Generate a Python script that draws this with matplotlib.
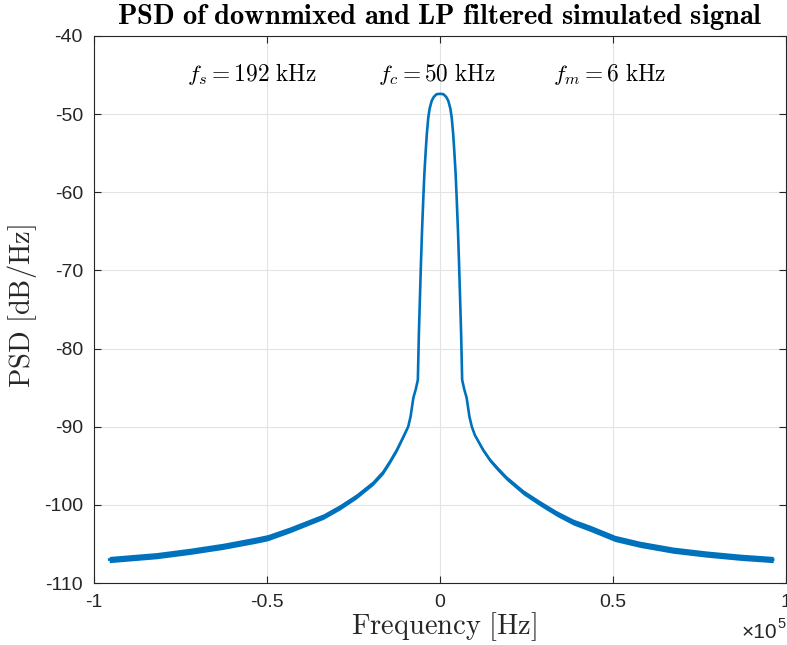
import matplotlib
matplotlib.use("Agg")
import matplotlib.pyplot as plt
import numpy as np

# values (frequency in kHz, PSD in dB/Hz)
freq_khz = [-95.6, -91.5, -81.9, -72.3, -62.6, -53.0, -49.8, -43.4, -33.7,
            -28.9, -24.1, -19.3, -16.4, -14.5, -12.5, -10.6, -9.2, -8.5,
            -7.7, -7.0, -6.4, -6.1, -5.8, -5.5, -5.2, -4.8, -4.5, -4.1, -3.8,
            -3.4, -3.0, -2.4, -1.8, -1.0, 0.0, 1.0, 1.8, 2.4, 3.0, 3.4, 3.8,
            4.1, 4.5, 4.8, 5.2, 5.5, 5.8, 6.1, 6.4, 7.0, 7.7, 8.5, 9.2, 10.1,
            12.5, 14.5, 16.9, 19.3, 24.1, 28.9, 33.7, 38.5, 43.4, 50.6, 57.8,
            67.4, 77.1, 86.7, 96.3]
psd_db = [-107.0, -106.85, -106.5, -105.95, -105.3, -104.5, -104.2, -103.2,
          -101.5, -100.3, -98.9, -97.2, -95.8, -94.5, -93.0, -91.3, -90.0,
          -88.7, -86.3, -85.2, -84.0, -78.0, -73.5, -69.0, -65.0, -60.5,
          -57.5, -54.5, -52.5, -50.5, -49.3, -48.3, -47.8, -47.45, -47.4,
          -47.45, -47.8, -48.3, -49.3, -50.5, -52.5, -54.5, -57.5, -60.5,
          -65.0, -69.0, -73.5, -78.0, -84.0, -85.2, -86.3, -88.7, -90.0,
          -91.1, -93.0, -94.3, -95.5, -96.6, -98.4, -99.8, -101.1, -102.2,
          -103.0, -104.3, -105.05, -105.8, -106.3, -106.7, -107.0]
# half height of the fine bin-to-bin ripple seen in the tails
ripple_db = [0.4, 0.4, 0.4, 0.4, 0.4, 0.4, 0.4, 0.38, 0.36, 0.35, 0.33,
             0.3, 0.3, 0.28, 0.25, 0.2, 0.1, 0.0, 0.0, 0.0, 0.0, 0.0, 0.0,
             0.0, 0.0, 0.0, 0.0, 0.0, 0.0, 0.0, 0.0, 0.0, 0.0, 0.0, 0.0, 0.0,
             0.0, 0.0, 0.0, 0.0, 0.0, 0.0, 0.0, 0.0, 0.0, 0.0, 0.0, 0.0, 0.0,
             0.0, 0.0, 0.0, 0.1, 0.2, 0.25, 0.28, 0.3, 0.3, 0.33, 0.35, 0.36,
             0.38, 0.4, 0.4, 0.4, 0.4, 0.4, 0.4, 0.4]

x_ticks = [-1e5, -0.5e5, 0, 0.5e5, 1e5]
x_tick_labels = ["-1", "-0.5", "0", "0.5", "1"]
y_ticks = [-110, -100, -90, -80, -70, -60, -50, -40]

blue = "#0072BD"
dark = "#262626"


def main():
    plt.rcParams["mathtext.fontset"] = "cm"
    plt.rcParams["font.family"] = ["Liberation Sans", "DejaVu Sans"]

    fig = plt.figure(figsize=(7.87, 6.45), dpi=100)
    ax = fig.add_axes([94 / 787, 62 / 645, 692 / 787, 547 / 645])

    f = np.array(freq_khz) * 1e3
    p = np.array(psd_db)
    r = np.array(ripple_db)

    ax.fill_between(f, p - r, p + r, color=blue, lw=0, zorder=3)
    ax.plot(f, p, color=blue, lw=1.9, zorder=4, solid_joinstyle="round")

    ax.set_xlim(-1e5, 1e5)
    ax.set_ylim(-110, -40)
    ax.set_xticks(x_ticks)
    ax.set_xticklabels(x_tick_labels)
    ax.set_yticks(y_ticks)
    ax.set_yticklabels([str(v) for v in y_ticks])

    ax.grid(True, color="#e3e3e3", lw=0.8)
    ax.set_axisbelow(True)
    ax.tick_params(direction="in", length=5, width=0.8, colors=dark,
                   labelsize=14, top=True, right=True, pad=8)
    for s in ax.spines.values():
        s.set_color(dark)
        s.set_linewidth(0.8)

    fig.text(440 / 787, 1 - 17 / 645,
             r"$\mathbf{PSD\ of\ downmixed\ and\ LP\ filtered\ simulated\ signal}$",
             ha="center", va="center", fontsize=20.5, color="black")
    fig.text(444 / 787, 1 - 627 / 645, r"$\mathrm{Frequency\ [Hz]}$",
             ha="center", va="center", fontsize=20.5, color=dark)
    fig.text(22 / 787, 1 - 306 / 645, r"$\mathrm{PSD\ [dB/Hz]}$",
             ha="center", va="center", rotation=90, fontsize=20.5,
             color=dark)

    fig.text(777 / 787, 1 - 632 / 645, "\u00d710", fontsize=15,
             color=dark, ha="right", va="center")
    fig.text(777 / 787, 1 - 624 / 645, "5", fontsize=10.5,
             color=dark, ha="left", va="center")

    ann_y = -44.8
    ax.text(-73e3, ann_y, r"$f_s = 192\ \mathrm{kHz}$", fontsize=16.8,
            ha="left", va="center")
    ax.text(-18e3, ann_y, r"$f_c = 50\ \mathrm{kHz}$", fontsize=16.8,
            ha="left", va="center")
    ax.text(32.7e3, ann_y, r"$f_m = 6\ \mathrm{kHz}$", fontsize=16.8,
            ha="left", va="center")

    fig.savefig("out.png", dpi=100)


if __name__ == "__main__":
    main()
